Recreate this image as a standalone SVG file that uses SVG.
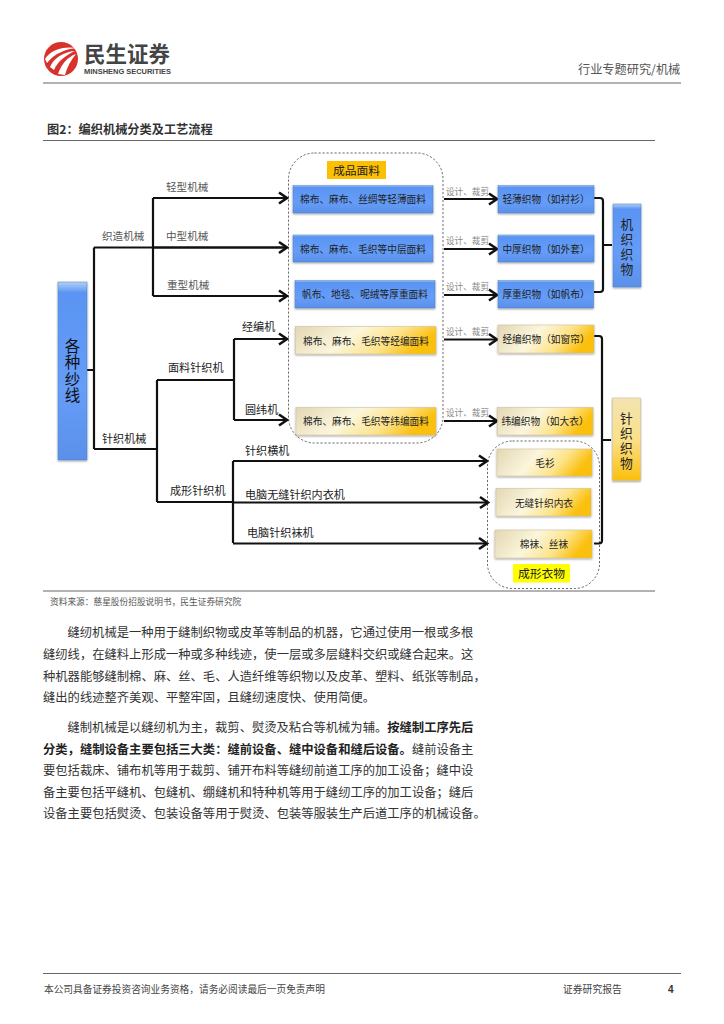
<svg xmlns="http://www.w3.org/2000/svg" width="724" height="1024" viewBox="0 0 724 1024">
<style>
text{font-family:"Noto Sans CJK SC","Noto Sans",sans-serif;fill:#222}
.rule{stroke:#666;stroke-width:1;fill:none}
.c{fill:none;stroke:#111;stroke-width:2.2}
.a{fill:none;stroke:#111;stroke-width:2.2;marker-end:url(#arr)}
.dash{fill:none;stroke:#444;stroke-width:.8;stroke-dasharray:2.2 1.8}
.blue{fill:url(#gb);stroke:#4f7fc4;stroke-width:.5;filter:url(#sh)}
.gold{fill:url(#gy);stroke:#c9bd95;stroke-width:.5;filter:url(#sh)}
.b{font-size:9.7px;text-anchor:middle;fill:#222}
.n{font-size:8.6px;fill:#888}
.l1{font-size:10.6px;fill:#555}
.l2{font-size:11.1px;fill:#222}
.p{font-size:12.3px;fill:#333}
.v{writing-mode:vertical-rl;text-orientation:upright}
</style>
<defs>
<linearGradient id="gb" x1="0" y1="0" x2="0" y2="1"><stop offset="0" stop-color="#b4d0f8"/><stop offset=".06" stop-color="#5a94f2"/><stop offset=".6" stop-color="#659df8"/><stop offset="1" stop-color="#5a90ea"/></linearGradient>
<linearGradient id="gy" x1="0" y1="0" x2="1" y2=".25"><stop offset="0" stop-color="#e3d7b4"/><stop offset=".45" stop-color="#fbf6dc"/><stop offset=".75" stop-color="#fde38a"/><stop offset="1" stop-color="#fbbf0c"/></linearGradient>
<linearGradient id="gyv" x1="0" y1="0" x2="0" y2="1"><stop offset="0" stop-color="#f3e4b0"/><stop offset=".5" stop-color="#fbe08a"/><stop offset="1" stop-color="#fbbf0c"/></linearGradient>
<filter id="sh" x="-5%" y="-5%" width="110%" height="120%"><feDropShadow dx="0" dy="1" stdDeviation=".8" flood-color="#000" flood-opacity=".4"/></filter>
<marker id="arr" markerUnits="userSpaceOnUse" markerWidth="13" markerHeight="16" refX="10" refY="8" orient="auto"><path d="M2 2.500L10 8L2 13.500" fill="none" stroke="#111" stroke-width="2.600"/></marker>
</defs>
<rect width="724" height="1024" fill="#fff"/>

<g id="header">
<circle cx="61" cy="59" r="17" fill="#d8322d"/>
<path d="M45 59C51 50 62 46 77 48C66 49 55 53 47 63Z" fill="#fff"/>
<path d="M50 67C54 58 63 52 75 51C66 55 58 61 54 70Z" fill="#fff"/>
<path d="M58 74C61 65 67 57 76 54C71 60 67 67 65 75Z" fill="#fff"/>
<text x="84" y="62" font-size="21.500" font-weight="700" style="fill:#444">民生证券</text>
<text x="84" y="73.500" font-size="7.400" font-weight="700" textLength="87" lengthAdjust="spacingAndGlyphs" style="fill:#444;font-family:'Liberation Sans',sans-serif">MINSHENG SECURITIES</text>
<text x="578" y="74" font-size="12.200" style="fill:#555">行业专题研究/机械</text>
<line class="rule" x1="43" y1="83" x2="681" y2="83"/>
<text x="47" y="134" font-size="12.200" font-weight="700" style="fill:#333">图2：编织机械分类及工艺流程</text>
<line class="rule" x1="43" y1="140.500" x2="655" y2="140.500"/>
</g>

<g id="frames">
<rect class="dash" x="288.500" y="153" width="154.500" height="290" rx="26"/>
<rect class="dash" x="487.500" y="441" width="112" height="147.500" rx="25"/>
</g>

<g id="connectors">
<path class="c" d="M87 370H94M94 247.500V449M94 247.500H285M153 198V296M94 449H157M157 380V502M157 380H234M234 339V420M157 502H233M233 461V543"/>
<path class="a" d="M153 198H287"/>
<path class="a" d="M153 247.500H287"/>
<path class="a" d="M153 296H287"/>
<path class="a" d="M234 339H287"/>
<path class="a" d="M234 420H287"/>
<path class="a" d="M233 461H487"/>
<path class="a" d="M233 502.500H488"/>
<path class="a" d="M233 543.500H487"/>
<path class="a" d="M444 199H497"/>
<path class="a" d="M444 249H497"/>
<path class="a" d="M444 295H497"/>
<path class="a" d="M444 339.500H497"/>
<path class="a" d="M444 421H497"/>
<path class="c" d="M594 198H600Q603 198 603 201V289Q603 292 600 292H594M603 245H612"/>
<path class="c" d="M594 336H599Q602 336 602 339V540.500Q602 543.500 599 543.500H594M602 440H611"/>
</g>

<g id="edge-labels">
<text class="l1" x="166" y="191">轻型机械</text>
<text class="l1" x="166" y="240">中型机械</text>
<text class="l1" x="167" y="289">重型机械</text>
<text class="l1" x="102" y="240">织造机械</text>
<text class="l2" x="242" y="331">经编机</text>
<text class="l2" x="168" y="372">面料针织机</text>
<text class="l2" x="245" y="414">圆纬机</text>
<text class="l2" x="102" y="443">针织机械</text>
<text class="l2" x="245" y="455">针织横机</text>
<text class="l2" x="170" y="495">成形针织机</text>
<text class="l2" x="245" y="499">电脑无缝针织内衣机</text>
<text class="l2" x="247" y="537">电脑针织袜机</text>
<text class="n" x="446" y="195">设计、裁剪</text>
<text class="n" x="446" y="244">设计、裁剪</text>
<text class="n" x="446" y="290">设计、裁剪</text>
<text class="n" x="446" y="335">设计、裁剪</text>
<text class="n" x="446" y="416">设计、裁剪</text>
</g>

<g id="node-yarn"><rect class="blue" x="58" y="282" width="29" height="178"/>
<text class="v" x="72.500" y="338" font-size="15.500" letter-spacing="1" style="fill:#111">各种纱线</text></g>

<g id="node-fabric-label"><rect x="327" y="161" width="59" height="18" fill="#fdc000"/><text x="356.500" y="174.500" font-size="11.800" text-anchor="middle">成品面料</text></g>
<g id="node-f1"><rect class="blue" x="293" y="185.500" width="140" height="27.500"/><text class="b" x="363" y="203">棉布、麻布、丝绸等轻薄面料</text></g>
<g id="node-f2"><rect class="blue" x="293" y="235" width="140" height="27"/><text class="b" x="363" y="252.500">棉布、麻布、毛织等中层面料</text></g>
<g id="node-f3"><rect class="blue" x="295" y="280.500" width="140" height="27.500"/><text class="b" x="365" y="298">帆布、地毯、呢绒等厚重面料</text></g>
<g id="node-f4"><rect class="gold" x="295.500" y="326.500" width="140.500" height="27.500"/><text class="b" x="366" y="344.500">棉布、麻布、毛织等经编面料</text></g>
<g id="node-f5"><rect class="gold" x="296" y="407.500" width="140" height="27.500"/><text class="b" x="366" y="425">棉布、麻布、毛织等纬编面料</text></g>

<g id="node-g1"><rect class="blue" x="498" y="185.500" width="96" height="27.500"/><text class="b" x="546" y="203">轻薄织物（如衬衫）</text></g>
<g id="node-g2"><rect class="blue" x="498" y="235" width="96" height="27"/><text class="b" x="546" y="252.500">中厚织物（如外套）</text></g>
<g id="node-g3"><rect class="blue" x="498" y="280.500" width="95.500" height="27.500"/><text class="b" x="546" y="298">厚重织物（如帆布）</text></g>
<g id="node-g4"><rect class="gold" x="498" y="325" width="96" height="28"/><text class="b" x="546" y="343">经编织物（如窗帘）</text></g>
<g id="node-g5"><rect class="gold" x="497.500" y="407.500" width="95.500" height="27.500"/><text class="b" x="545" y="425">纬编织物（如大衣）</text></g>

<g id="node-woven"><rect class="blue" x="613" y="204" width="28" height="83"/>
<text class="v" x="627" y="217.500" font-size="12.800" letter-spacing="2.200">机织织物</text></g>
<g id="node-knit"><rect x="612.500" y="398" width="28" height="82.500" fill="url(#gyv)" stroke="#c9bd95" stroke-width=".5" filter="url(#sh)"/>
<text class="v" x="626.500" y="411.500" font-size="12.800" letter-spacing="2.200">针织织物</text></g>

<g id="node-s1"><rect class="gold" x="497" y="449" width="95" height="27"/><text class="b" x="545" y="466.500">毛衫</text></g>
<g id="node-s2"><rect class="gold" x="496" y="488.500" width="95" height="27.500"/><text class="b" x="544" y="506.500">无缝针织内衣</text></g>
<g id="node-s3"><rect class="gold" x="495" y="530" width="97" height="28"/><text class="b" x="544" y="548">棉袜、丝袜</text></g>
<g id="node-shaped-label"><rect x="513" y="564" width="57" height="18.500" fill="#ffff00"/><text x="541.500" y="577.500" font-size="11.800" text-anchor="middle">成形衣物</text></g>

<g id="body">
<line class="rule" x1="43" y1="591" x2="655" y2="591"/>
<text x="50" y="605" font-size="8.700" style="fill:#555">资料来源：慈星股份招股说明书，民生证券研究院</text>
<text class="p" x="67.500" y="637">缝纫机械是一种用于缝制织物或皮革等制品的机器，它通过使用一根或多根</text>
<text class="p" x="43" y="659">缝纫线，在缝料上形成一种或多种线迹，使一层或多层缝料交织或缝合起来。这</text>
<text class="p" x="43" y="680.500">种机器能够缝制棉、麻、丝、毛、人造纤维等织物以及皮革、塑料、纸张等制品，</text>
<text class="p" x="43" y="702">缝出的线迹整齐美观、平整牢固，且缝纫速度快、使用简便。</text>
<text class="p" x="67.500" y="732">缝制机械是以缝纫机为主，裁剪、熨烫及粘合等机械为辅。<tspan font-weight="700" style="fill:#222">按缝制工序先后</tspan></text>
<text class="p" x="43" y="753.500"><tspan font-weight="700" style="fill:#222">分类，缝制设备主要包括三大类：缝前设备、缝中设备和缝后设备。</tspan>缝前设备主</text>
<text class="p" x="43" y="775">要包括裁床、铺布机等用于裁剪、铺开布料等缝纫前道工序的加工设备；缝中设</text>
<text class="p" x="43" y="796.500">备主要包括平缝机、包缝机、绷缝机和特种机等用于缝纫工序的加工设备；缝后</text>
<text class="p" x="43" y="818">设备主要包括熨烫、包装设备等用于熨烫、包装等服装生产后道工序的机械设备。</text>
</g>

<g id="footer">
<line class="rule" x1="43" y1="973.500" x2="681" y2="973.500"/>
<text x="44" y="993" font-size="9.700" style="fill:#444">本公司具备证券投资咨询业务资格，请务必阅读最后一页免责声明</text>
<text x="563" y="993" font-size="9.800" style="fill:#444">证券研究报告</text>
<text x="668" y="993" font-size="10" font-weight="700" style="fill:#333;font-family:'Liberation Sans',sans-serif">4</text>
</g>
</svg>
